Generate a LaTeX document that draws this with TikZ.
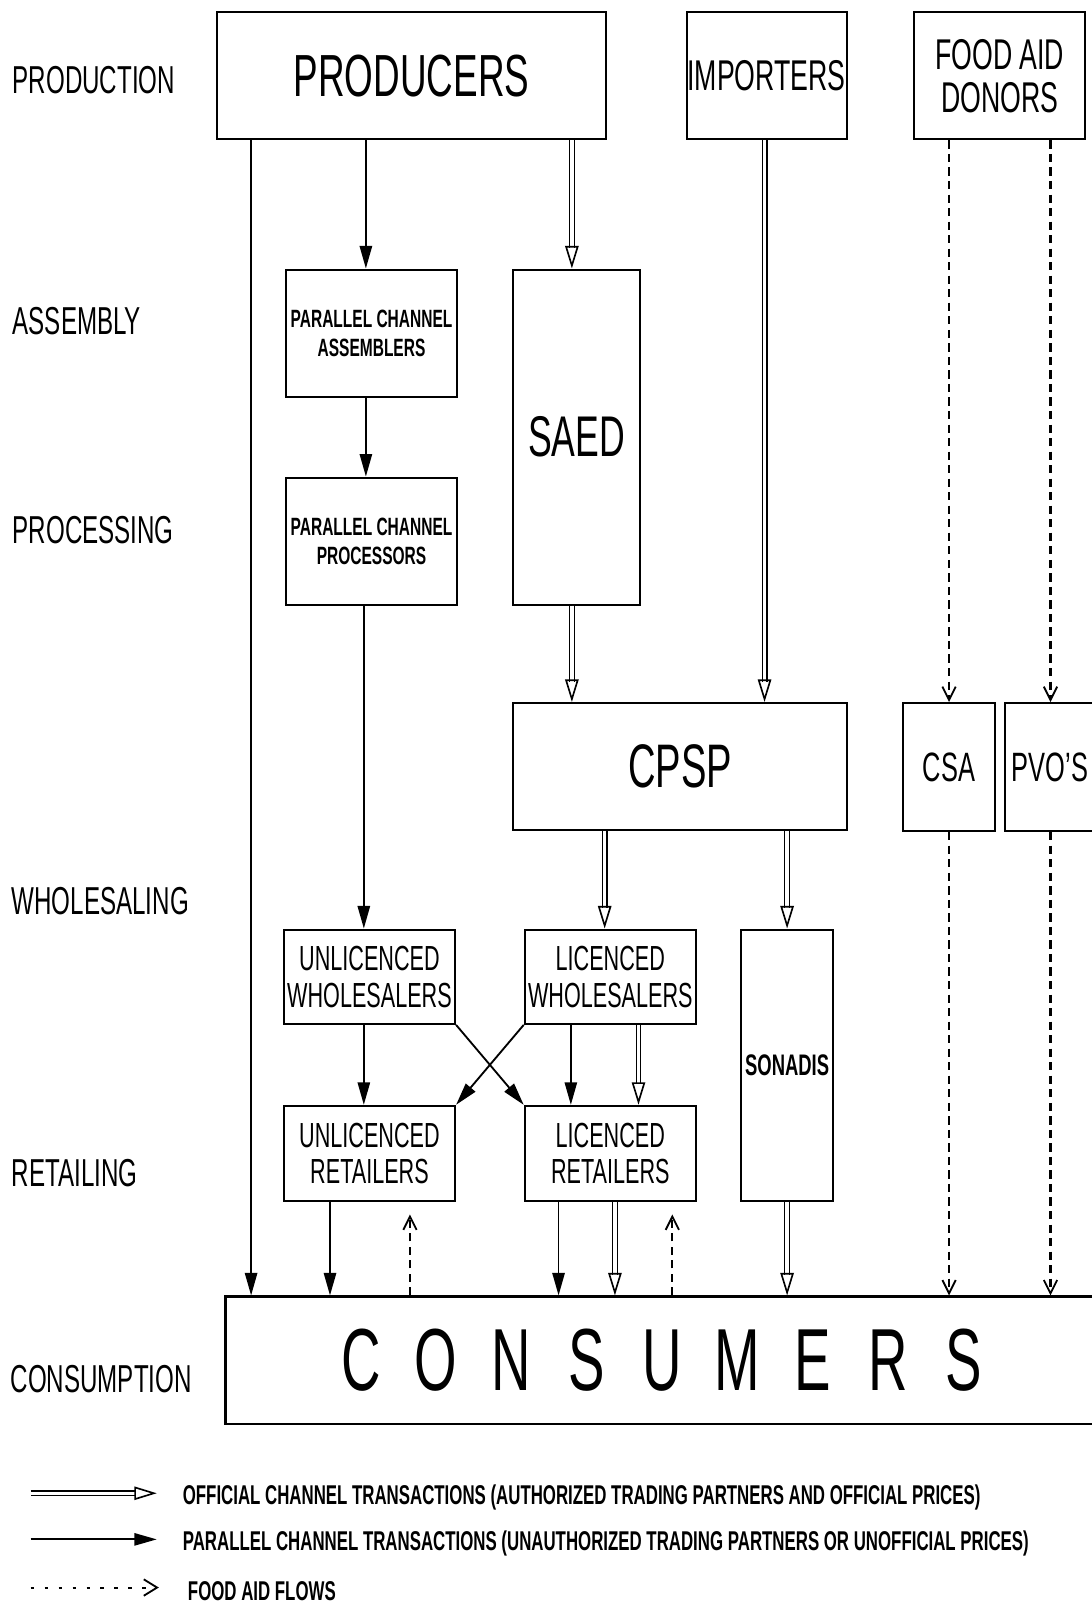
\documentclass[tikz,border=0pt]{standalone}
\usepackage{fontspec}
\setmainfont{Liberation Sans}[FakeStretch=0.62]
\usetikzlibrary{arrows.meta}
\newcommand\lspread[1]{\makebox[36.75pt]{#1}}
\begin{document}
\begin{tikzpicture}[x=0.5pt,y=-0.5pt,
  box/.style={draw, line width=1pt, inner sep=0pt, align=center},
  par/.style={line width=0.9pt, -{Triangle[length=11pt,width=6pt]}},
  off/.style={preaction={-, draw=black, double=white, double distance=1.6pt, line width=0.65pt, shorten >=10pt},
              draw=white, line width=0.1pt,
              -{Triangle[open,length=11pt,width=6.5pt,color=black,line width=0.8pt]}},
  aid/.style={line width=1pt, dash pattern=on 4pt off 2.6pt,
              -{Straight Barb[length=6.5pt,width=6.5pt,line width=0.9pt]}},
  dots/.style={line width=1pt, dash pattern=on 1.6pt off 5.2pt,
              -{Straight Barb[length=6.5pt,width=8pt,line width=0.9pt]}},
  rowlab/.style={anchor=west, inner sep=0pt, font=\fontsize{19}{22}\selectfont},
  legtxt/.style={anchor=west, inner sep=0pt, font=\bfseries\fontsize{13.25}{15}\selectfont},
]
\useasboundingbox (0,0) rectangle (1065,1568);

% row labels
\node[rowlab] (lprod) at (12,78)   {PRODUCTION};
\node[rowlab] (lass)  at (12,313)  {ASSEMBLY};
\node[rowlab] (lproc) at (12,517)  {PROCESSING};
\node[rowlab] (lwhol) at (11,879)  {WHOLESALING};
\node[rowlab] (lret)  at (11,1145) {RETAILING};
\node[rowlab] (lcons) at (10,1346) {CONSUMPTION};

% boxes
\node[box, minimum width=189.5pt, minimum height=62pt, font=\fontsize{29}{32}\selectfont] (prod) at (401.5,74) {PRODUCERS};
\node[box, minimum width=78pt, minimum height=62pt, font=\fontsize{21}{24}\selectfont] (imp) at (748,74) {IMPORTERS};
\node[box, minimum width=83.5pt, minimum height=62pt, font=\fontsize{21}{21}\selectfont] (fad) at (975.5,74) {FOOD AID\\DONORS};
\node[box, minimum width=83.5pt, minimum height=62pt, font=\bfseries\fontsize{12.2}{14}\selectfont] (pca) at (362.5,325) {PARALLEL CHANNEL\\ASSEMBLERS};
\node[box, minimum width=61.5pt, minimum height=163.5pt, font=\fontsize{28}{30}\selectfont] (saed) at (562.5,426.5) {SAED};
\node[box, minimum width=83.5pt, minimum height=62pt, font=\bfseries\fontsize{12.2}{14}\selectfont] (pcp) at (362.5,528) {PARALLEL CHANNEL\\PROCESSORS};
\node[box, minimum width=162.5pt, minimum height=62pt, font=\fontsize{30}{32}\selectfont] (cpsp) at (663.5,748) {CPSP};
\node[box, minimum width=45pt, minimum height=62.5pt, font=\fontsize{20}{22}\selectfont] (csa) at (926,748.5) {CSA};
\node[box, minimum width=43.5pt, minimum height=62.5pt, font=\fontsize{20}{22}\selectfont] (pvo) at (1024.5,748.5) {PVO'S};
\node[box, minimum width=83.5pt, minimum height=46pt, font=\fontsize{17}{18}\selectfont] (uw) at (360.5,953) {UNLICENCED\\WHOLESALERS};
\node[box, minimum width=83.5pt, minimum height=46pt, font=\fontsize{17}{18}\selectfont] (lw) at (595.5,953) {LICENCED\\WHOLESALERS};
\node[box, minimum width=45pt, minimum height=132.5pt, font=\bfseries\fontsize{14.5}{16}\selectfont] (son) at (768,1039.5) {SONADIS};
\node[box, minimum width=83.5pt, minimum height=46.5pt, font=\fontsize{17}{18}\selectfont] (ur) at (360.5,1125.5) {UNLICENCED\\RETAILERS};
\node[box, minimum width=83.5pt, minimum height=46.5pt, font=\fontsize{17}{18}\selectfont] (lr) at (595.5,1125.5) {LICENCED\\RETAILERS};
\node[box, minimum width=426pt, minimum height=62pt, font=\fontsize{43}{46}\selectfont] (cons) at (646,1327)
  {\lspread{C}\lspread{O}\lspread{N}\lspread{S}\lspread{U}\lspread{M}\lspread{E}\lspread{R}\lspread{S}};

% column coordinates
\foreach \c in {245,322,355,357,400,545,557,558,590,600,623,656,746,768,926,1025}
  \coordinate (x\c) at (\c,0);

% connectors
\draw[par] (prod.south -| x245) -- (cons.north -| x245);
\draw[par] (prod.south -| x357) -- (pca.north -| x357);
\draw[off] (prod.south -| x558) -- (saed.north -| x558);
\draw[par] (pca.south -| x357) -- (pcp.north -| x357);
\draw[par] (pcp.south -| x355) -- (uw.north -| x355);
\draw[off] (imp.south -| x746) -- (cpsp.north -| x746);
\draw[off] (saed.south -| x558) -- (cpsp.north -| x558);
\draw[aid] (fad.south -| x926) -- (csa.north -| x926);
\draw[aid] (fad.south -| x1025) -- (pvo.north -| x1025);
\draw[off] (cpsp.south -| x590) -- (lw.north -| x590);
\draw[off] (cpsp.south -| x768) -- (son.north -| x768);
\draw[par] (uw.south -| x355) -- (ur.north -| x355);
\draw[par] (uw.south east) -- (lr.north west);
\draw[par] (lw.south west) -- (ur.north east);
\draw[par] (lw.south -| x557) -- (lr.north -| x557);
\draw[off] (lw.south -| x623) -- (lr.north -| x623);
\draw[par] (ur.south -| x322) -- (cons.north -| x322);
\draw[aid, shorten >=6pt] (cons.north -| x400) -- (ur.south -| x400);
\draw[par] (lr.south -| x545) -- (cons.north -| x545);
\draw[off] (lr.south -| x600) -- (cons.north -| x600);
\draw[aid, shorten >=6pt] (cons.north -| x656) -- (lr.south -| x656);
\draw[off] (son.south -| x768) -- (cons.north -| x768);
\draw[aid] (csa.south -| x926) -- (cons.north -| x926);
\draw[aid] (pvo.south -| x1025) -- (cons.north -| x1025);

% legend
\coordinate (la1) at (30,1457);  \coordinate (lb1) at (153,1457);
\coordinate (la2) at (30,1502);  \coordinate (lb2) at (153,1502);
\coordinate (la3) at (30,1549);  \coordinate (lb3) at (155,1549);
\draw[off] (la1) -- (lb1);
\draw[par] (la2) -- (lb2);
\draw[dots] (la3) -- (lb3);
\node[legtxt] (t1) at (178,1461) {OFFICIAL CHANNEL TRANSACTIONS (AUTHORIZED TRADING PARTNERS AND OFFICIAL PRICES)};
\node[legtxt] (t2) at (178,1506) {PARALLEL CHANNEL TRANSACTIONS (UNAUTHORIZED TRADING PARTNERS OR UNOFFICIAL PRICES)};
\node[legtxt] (t3) at (183,1553) {FOOD AID FLOWS};
\end{tikzpicture}
\end{document}
